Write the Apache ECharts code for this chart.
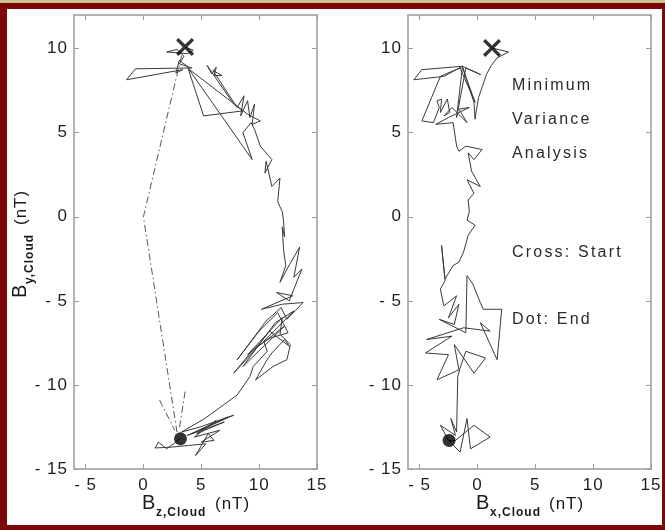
<!DOCTYPE html>
<html>
<head>
<meta charset="utf-8">
<style>
  html, body { margin: 0; padding: 0; background: #ffffff; }
  #chart { width: 665px; height: 530px; }
</style>
<script src="https://cdn.jsdelivr.net/npm/echarts@6/dist/echarts.min.js"></script>
</head>
<body>
<div id="chart"></div>
<script>
// Hodograms of the cloud magnetic field in minimum-variance coordinates.
const xRange = [-6, 15];
const yRange = [-15, 12];
const xTicks = [-5, 0, 5, 10, 15];
const yTicks = [-15, -10, -5, 0, 5, 10];

// Bz vs By trajectory (nT)
const bzByPath = [
  [3.6,10.1],[4.3,9.9],[3.8,9.7],[2.0,9.8],[2.9,9.95],[3.5,9.55],[3.1,9.1],[4.2,8.85],
  [-0.7,8.8],[-1.45,8.15],[3.4,8.75],[2.8,8.55],[3.1,9.3],[3.8,8.95],[5.2,6.0],[8.6,6.3],
  [7.8,6.7],[5.5,9.0],[5.9,8.5],[6.3,8.9],[6.1,8.4],[6.8,8.4],[6.0,8.7],[8.1,6.5],
  [8.7,7.2],[8.4,6.0],[9.0,6.9],[9.2,5.9],[9.6,6.7],[9.4,5.5],[10.1,5.7],[9.0,6.1],
  [3.9,8.8],[9.4,3.4],[8.6,5.0],[9.3,5.6],[9.6,5.2],[10.1,4.2],[11.1,3.4],[10.5,2.6],
  [10.6,3.3],[11.1,1.8],[11.8,2.3],[11.6,0.9],[12.0,0.3],[12.1,-0.2],[12.2,-1.2],[12.0,-0.6],
  [12.1,-1.9],[12.3,-2.9],[11.8,-3.9],[12.5,-3.0],[13.5,-1.8],[13.0,-3.6],[13.7,-3.1],[12.6,-5.0],
  [11.5,-4.5],[12.9,-4.7],[10.2,-5.5],[12.0,-5.2],[13.8,-5.1],[12.4,-6.1],[11.9,-5.4],[10.6,-6.2],
  [8.1,-8.5],[10.0,-6.8],[11.6,-5.7],[12.5,-6.9],[11.0,-7.2],[9.6,-7.8],[7.8,-9.3],[9.4,-8.1],
  [10.9,-6.8],[12.6,-7.7],[12.2,-7.3],[11.1,-8.1],[10.6,-8.6],[9.7,-9.7],[11.2,-8.9],[12.4,-8.5],
  [12.7,-7.6],[11.8,-7.0],[12.0,-6.0],[9.0,-8.2],[12.2,-6.5],[8.6,-8.9],[11.4,-6.3],[13.0,-5.6],
  [10.4,-7.4],[10.7,-8.0],[9.5,-8.9],[9.2,-9.5],[8.1,-10.6],[6.5,-11.4],[5.3,-12.0],
  [3.3,-12.8],[4.9,-12.5],[7.8,-11.8],[4.2,-12.9],[7.3,-11.9],[3.8,-13.0],[7.0,-12.2],[4.6,-12.9],
  [6.3,-12.1],[4.4,-13.1],[6.6,-12.7],[5.0,-13.4],
  [6.1,-13.3],[5.6,-12.9],[4.5,-14.2],[5.4,-13.5],[3.9,-13.6],[2.4,-13.7],[1.0,-13.75],[1.3,-13.4],
  [2.0,-13.8],[3.2,-13.2]
];

// Bx vs By trajectory (nT)
const bxByPath = [
  [1.26,10.04],[2.7,9.8],[1.7,9.45],[1.2,9.0],[0.8,8.5],[0.4,7.7],[0.1,7.1],[-0.1,6.3],
  [-0.2,5.8],[-0.3,6.8],[-1.3,8.95],[-4.8,8.75],[-5.5,8.15],[-2.9,8.35],[-1.3,8.95],[0.3,8.45],
  [-1.0,8.85],[-1.8,5.9],[-1.3,8.9],[-0.2,6.8],[-1.5,8.85],[-3.2,8.35],[-4.8,5.7],[-3.8,5.6],
  [-3.3,6.5],[-3.5,6.9],[-3.1,7.0],[-3.2,6.2],[-2.6,7.0],[-2.4,6.2],[-2.9,6.0],[-2.2,6.5],
  [-0.9,5.6],[-1.6,6.4],[-0.7,6.5],[-2.5,5.9],[-3.6,5.5],[-2.1,5.6],[-1.8,4.2],[-1.6,3.9],
  [-1.0,4.2],[0.4,4.0],[-0.3,3.4],[-0.8,3.8],[-0.5,2.7],[0.25,1.8],[-0.9,2.2],[-0.3,1.4],
  [-0.8,1.0],[-0.7,0.3],[-0.9,-0.2],[-0.2,-0.5],[-0.8,-1.1],[-1.2,-2.1],[-1.6,-2.7],[-2.1,-2.9],
  [-2.8,-3.7],[-3.1,-1.7],[-2.8,-3.8],[-3.2,-4.3],[-2.9,-5.3],[-1.8,-4.7],[-2.5,-6.0],[-1.6,-5.2],
  [-2.0,-6.4],[-3.3,-6.1],[-1.0,-6.9],[-0.9,-3.5],[-0.4,-4.0],[0.25,-5.1],[0.5,-5.5],[2.1,-5.5],
  [1.7,-8.5],[0.25,-6.3],[1.1,-6.8],[-1.2,-6.6],[-4.4,-7.3],[-2.2,-7.1],[-4.5,-8.1],[-2.5,-8.2],
  [-3.5,-9.7],[-1.6,-9.1],[-2.0,-7.6],[-0.3,-9.3],[0.7,-8.4],[-1.0,-8.0],[-1.5,-9.0],[-1.7,-9.5],
  [-1.8,-12.8],[-2.3,-12.0],[-1.9,-13.0],[-3.2,-12.4],[-2.5,-13.3],[-1.5,-14.0],[-0.9,-12.0],[-0.6,-13.8],
  [1.1,-13.1],[-0.3,-12.4],[-1.9,-13.3],[-2.5,-13.3]
];

// Fitted flux-rope curve (dash-dot) in the Bz-By plane
const bzByFit = [[3.3,9.6],[0.0,0.0],[2.9,-12.8]];
const bzByFitEndA = [[1.4,-10.9],[2.7,-12.7]];
const bzByFitEndB = [[3.6,-10.4],[3.1,-12.6]];

// Start (cross) and end (dot) points
const startBzBy = [3.6, 10.1];
const endBzBy = [3.2, -13.2];
const startBxBy = [1.26, 10.04];
const endBxBy = [-2.45, -13.3];

const notes = ['Minimum', 'Variance', 'Analysis', 'Cross: Start', 'Dot: End'];

const FONT = '"Liberation Sans", Arial, Helvetica, sans-serif';
const frameColor = '#9a9a9a';
const lineColor = '#3a3a3a';
const crossPath = 'path://M0,2.6L2.6,0L10,7.4L17.4,0L20,2.6L12.6,10L20,17.4L17.4,20L10,12.6L2.6,20L0,17.4L7.4,10Z';

const fmt = v => (v < 0 ? '- ' + Math.abs(v) : String(v));

const grids = [
  { left: 74, top: 15, width: 243, height: 454 },
  { left: 408, top: 15, width: 243, height: 454 }
];

function xAxes(gi) {
  const base = {
    type: 'value', gridIndex: gi, min: xRange[0], max: xRange[1],
    splitLine: { show: false },
    axisLine: { show: true, onZero: false, lineStyle: { color: frameColor, width: 1.5 } }
  };
  return [
    Object.assign({}, base, {
      position: 'bottom',
      axisTick: { show: true, inside: true, length: 5, customValues: xTicks, lineStyle: { color: frameColor } },
      axisLabel: { show: true, customValues: xTicks, formatter: fmt, margin: 8, color: '#1e1e1e', fontSize: 17, fontFamily: FONT }
    }),
    Object.assign({}, base, {
      position: 'top',
      axisTick: { show: true, inside: true, length: 5, customValues: xTicks, lineStyle: { color: frameColor } },
      axisLabel: { show: false }
    })
  ];
}
function yAxes(gi) {
  const base = {
    type: 'value', gridIndex: gi, min: yRange[0], max: yRange[1],
    splitLine: { show: false },
    axisLine: { show: true, onZero: false, lineStyle: { color: frameColor, width: 1.5 } }
  };
  return [
    Object.assign({}, base, {
      position: 'left',
      axisTick: { show: true, inside: true, length: 5, customValues: yTicks, lineStyle: { color: frameColor } },
      axisLabel: { show: true, customValues: yTicks, formatter: fmt, margin: 6, color: '#1e1e1e', fontSize: 17, fontFamily: FONT }
    }),
    Object.assign({}, base, {
      position: 'right',
      axisTick: { show: true, inside: true, length: 5, customValues: yTicks, lineStyle: { color: frameColor } },
      axisLabel: { show: false }
    })
  ];
}

function pathSeries(data, xi, yi, extra) {
  return Object.assign({
    type: 'line', xAxisIndex: xi, yAxisIndex: yi, data: data,
    showSymbol: false, symbol: 'none', silent: true, animation: false,
    lineStyle: { color: lineColor, width: 1 }
  }, extra || {});
}
function markerSeries(pt, xi, yi, symbol, size) {
  return {
    type: 'scatter', xAxisIndex: xi, yAxisIndex: yi, data: [pt],
    symbol: symbol, symbolSize: size, silent: true, animation: false,
    itemStyle: { color: '#000000' }, z: 5
  };
}

const dashDot = { color: '#555555', width: 1, type: [7, 3, 1.5, 3] };

// Axis title built from a main letter, a bold subscript and the unit
function axisTitle(x, y, sub, rotation) {
  return {
    type: 'group', x: x, y: y, rotation: rotation || 0, silent: true, zlevel: 1,
    children: [
      { type: 'text', x: 0, y: 0, style: { text: 'B', font: '20px ' + FONT, fill: '#1a1a1a', align: 'left', verticalAlign: 'bottom' } },
      { type: 'text', x: 14, y: 6, style: { text: sub, font: 'bold 12px ' + FONT, fill: '#1a1a1a', align: 'left', verticalAlign: 'bottom' } },
      { type: 'text', x: 73, y: 0, style: { text: '(nT)', font: '17px ' + FONT, fill: '#1a1a1a', align: 'left', verticalAlign: 'bottom' } }
    ]
  };
}

const chart = echarts.init(document.getElementById('chart'), null, { renderer: 'canvas' });

// Slightly open letter spacing, as in the original plotting software's text output
const painter = chart.getZr().painter;
if (painter && painter.getLayer) {
  const base = painter.getLayer(0);
  if (base && base.ctx) base.ctx.letterSpacing = '1px';
  const textLayer = painter.getLayer(1);
  if (textLayer && textLayer.ctx) textLayer.ctx.letterSpacing = '2.2px';
}

// Annotation block inside the right-hand panel
const noteTop = [86, 120, 154, 253, 320];
const noteGraphics = notes.map((t, i) => ({
  type: 'text', silent: true, zlevel: 1,
  x: 512, y: noteTop[i],
  style: { text: t, font: '16px ' + FONT, fill: '#2a2a2a', align: 'left', verticalAlign: 'middle' }
}));

chart.setOption({
  animation: false,
  backgroundColor: '#7d0606',
  grid: grids,
  xAxis: xAxes(0).concat(xAxes(1)),
  yAxis: yAxes(0).concat(yAxes(1)),
  graphic: [
    { type: 'rect', silent: true, z: -10, shape: { x: 0, y: 0, width: 665, height: 3 }, style: { fill: '#cbc396' } },
    { type: 'rect', silent: true, z: -10, shape: { x: 7, y: 9, width: 655, height: 516 }, style: { fill: '#ffffff' } },
    axisTitle(142, 513, 'z,Cloud', 0),
    axisTitle(476, 513, 'x,Cloud', 0),
    axisTitle(30, 298, 'y,Cloud', Math.PI / 2)
  ].concat(noteGraphics),
  series: [
    pathSeries(bzByFit, 0, 0, { lineStyle: dashDot }),
    pathSeries(bzByFitEndA, 0, 0, { lineStyle: dashDot }),
    pathSeries(bzByFitEndB, 0, 0, { lineStyle: dashDot }),
    pathSeries(bzByPath, 0, 0),
    pathSeries(bxByPath, 2, 2),
    markerSeries(startBzBy, 0, 0, crossPath, 18),
    markerSeries(endBzBy, 0, 0, 'circle', 13),
    markerSeries(startBxBy, 2, 2, crossPath, 18),
    markerSeries(endBxBy, 2, 2, 'circle', 13)
  ]
});
</script>
</body>
</html>
